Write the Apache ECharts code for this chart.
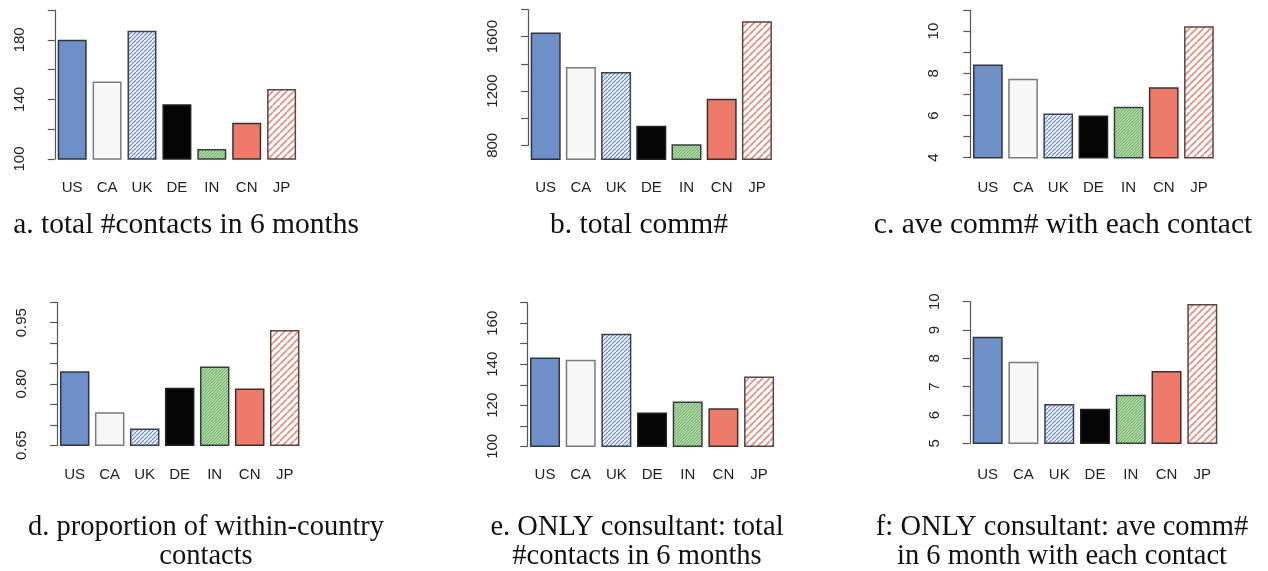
<!DOCTYPE html>
<html><head><meta charset="utf-8">
<script src="https://cdn.jsdelivr.net/npm/echarts@6/dist/echarts.min.js"></script>
<style>html,body{margin:0;padding:0;background:#fff}#c{width:1268px;height:571px}</style>
</head><body><div id="c"></div>
<script>
// ---------- data ----------
const categories = ['US', 'CA', 'UK', 'DE', 'IN', 'CN', 'JP'];
const totalContacts = [180, 152, 186, 136.7, 106.7, 124.4, 147];
const totalComm = [1631, 1376, 1339, 944, 807, 1143, 1714];
const aveComm = [8.42, 7.74, 6.10, 6.00, 6.41, 7.34, 10.23];
const withinCountry = [0.831, 0.731, 0.691, 0.791, 0.843, 0.789, 0.932];
const consultantContacts = [143.3, 142.2, 154.9, 116.5, 121.8, 118.6, 134];
const consultantAveComm = [8.76, 7.88, 6.39, 6.22, 6.71, 7.55, 9.92];
const captions = [
  'a. total #contacts in 6 months',
  'b. total comm#',
  'c. ave comm# with each contact',
  'd. proportion of within-country\ncontacts',
  'e. ONLY consultant: total\n#contacts in 6 months',
  'f: ONLY consultant: ave comm#\nin 6 month with each contact'
];
// axis scales (first tick, last tick, tick step, label step, bar base)
const axisMins = [100, 800, 4, 0.65, 100, 5];
const axisMaxs = [200, 1800, 11, 1.00, 170, 10];
const tickSteps = [20, 200, 1, 0.05, 10, 1];
const labelSteps = [40, 400, 2, 0.15, 20, 1];
const barBases = [100, 697, 4, 0.65, 100, 5];

const panelValues = [totalContacts, totalComm, aveComm, withinCountry, consultantContacts, consultantAveComm];

// ---------- layout & style ----------
const layout = [
  {left: 54.75, top: 10,    width: 244.3, height: 149,   offset: 7.75, barW: 29,   xm: 21, dec: 0, cx: 186,  cy: 225, fs: 29.5},
  {left: 528.1, top: 9.5,   width: 246.4, height: 149.8, offset: 8.1,  barW: 30,   xm: 21, dec: 0, cx: 639,  cy: 225, fs: 29.5},
  {left: 970.3, top: 10,    width: 246.2, height: 147.7, offset: 8.6,  barW: 29.7, xm: 23, dec: 0, cx: 1063, cy: 225, fs: 29.5},
  {left: 57.2,  top: 302.3, width: 245,   height: 143,   offset: 8.2,  barW: 29.5, xm: 22, dec: 2, cx: 206,  cy: 542, fs: 28.5},
  {left: 527.2, top: 302.7, width: 249.7, height: 143.6, offset: 7.2,  barW: 30,   xm: 21, dec: 0, cx: 637,  cy: 542, fs: 28.5},
  {left: 969.8, top: 301.7, width: 250.4, height: 141.6, offset: 7.5,  barW: 30,   xm: 24, dec: 0, cx: 1062, cy: 542, fs: 28.5}
];

function hatch(bg, line, step, lw) {
  const c = document.createElement('canvas');
  c.width = step; c.height = step;
  const g = c.getContext('2d');
  g.fillStyle = bg; g.fillRect(0, 0, step, step);
  g.strokeStyle = line; g.lineWidth = lw;
  g.beginPath();
  for (let k = -1; k <= 1; k++) { g.moveTo(k * step, step); g.lineTo(k * step + step, 0); }
  g.stroke();
  return {image: c, repeat: 'repeat'};
}

const barStyles = [
  {color: '#6f8fc8', borderColor: '#2f3540', borderWidth: 1.5},
  {color: '#f7f7f7', borderColor: '#7a7a7a', borderWidth: 1.5},
  {color: hatch('#ffffff', '#6f8fc8', 4, 1.3), borderColor: '#3a3f4a', borderWidth: 1.5},
  {color: '#050505', borderColor: '#222', borderWidth: 1.5},
  {color: hatch('#a9d6a0', '#78b070', 3, 1), borderColor: '#33403a', borderWidth: 1.5},
  {color: '#ee7b6a', borderColor: '#3a3030', borderWidth: 1.5},
  {color: hatch('#ffffff', '#e88a7c', 7, 1.6), borderColor: '#5a4545', borderWidth: 1.5}
];

const grids = [], xAxes = [], yAxes = [], series = [], graphics = [];
panelValues.forEach((vals, p) => {
  const L = layout[p];
  const aMin = axisMins[p], aMax = axisMaxs[p], base = barBases[p];
  // bars grid
  grids.push({left: L.left, top: L.top, width: L.width, height: L.height});
  // axis grid (spans first tick .. last tick)
  grids.push({left: L.left, top: L.top, width: L.width,
              height: L.height * (aMax - aMin) / (aMax - base)});
  xAxes.push({
    gridIndex: 2 * p, type: 'category', data: categories,
    axisLine: {show: false}, axisTick: {show: false},
    axisLabel: {margin: L.xm, fontFamily: 'Liberation Sans', fontSize: 15, color: '#222'}
  });
  xAxes.push({gridIndex: 2 * p + 1, type: 'value', min: 0, max: 1, show: false});
  yAxes.push({gridIndex: 2 * p, type: 'value', min: base, max: aMax, show: false});
  yAxes.push({
    gridIndex: 2 * p + 1, type: 'value', min: aMin, max: aMax, interval: tickSteps[p],
    offset: L.offset,
    axisLine: {show: true, lineStyle: {color: '#555', width: 1.2}},
    axisTick: {show: true, length: 7, lineStyle: {color: '#555', width: 1.2}},
    splitLine: {show: false},
    axisLabel: {
      rotate: 90, margin: 20, fontFamily: 'Liberation Sans', fontSize: 15, color: '#222',
      formatter: v => {
        const r = (v - aMin) / labelSteps[p];
        return Math.abs(r - Math.round(r)) < 1e-6 ? Number(v).toFixed(L.dec) : '';
      }
    }
  });
  series.push({
    type: 'bar', xAxisIndex: 2 * p, yAxisIndex: 2 * p, barWidth: L.barW,
    data: vals.map((v, i) => ({value: v, itemStyle: barStyles[i]})),
    silent: true, animation: false
  });
  graphics.push({
    type: 'text', x: L.cx, y: L.cy,
    style: {text: captions[p], fill: '#111', font: L.fs + 'px "Liberation Serif"',
            textAlign: 'center', textVerticalAlign: 'middle', lineHeight: 29}
  });
});

const chart = echarts.init(document.getElementById('c'), null, {renderer: 'canvas'});
chart.setOption({
  animation: false,
  backgroundColor: '#fff',
  grid: grids, xAxis: xAxes, yAxis: yAxes, series: series,
  graphic: graphics
});
</script></body></html>
